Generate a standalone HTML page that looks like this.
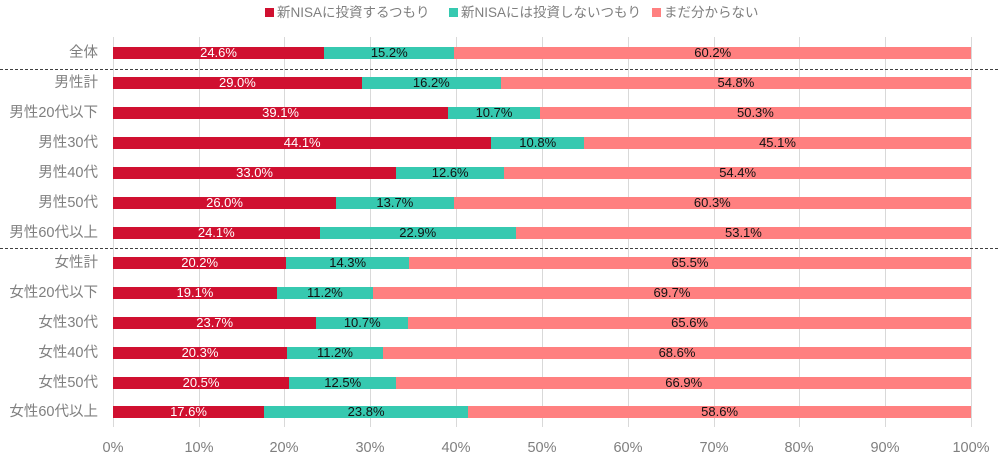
<!DOCTYPE html>
<html><head><meta charset="utf-8"><style>
body{margin:0;width:998px;height:460px;background:#fff;font-family:"Liberation Sans","Noto Sans CJK JP",sans-serif;position:relative;overflow:hidden}
.g{position:absolute;top:37px;height:390px;width:1px;background:#d9d9d9}
.row{position:absolute;left:113px;width:858px;height:12px;display:flex}
.row div{height:12px;font-size:13px;line-height:12px;text-align:center;overflow:hidden;white-space:nowrap}
.a{background:#d01030;color:#fff}.b{background:#36c9b0;color:#111}.c{background:#ff8080;color:#111}
.lab{position:absolute;right:900px;font-size:14.5px;color:#7f7f7f;line-height:16px;white-space:nowrap}
.t{position:absolute;top:440px;font-size:14.5px;color:#7f7f7f;width:60px;text-align:center}
.d{position:absolute;left:0;width:998px;border-top:1px dashed #404040}
.lg{position:absolute;top:5px;font-size:13.5px;color:#7f7f7f;line-height:16px;white-space:nowrap}
.lg span{display:inline-block;width:9px;height:9px;margin-right:3px;vertical-align:0px}
</style></head><body>
<div class="lg" style="left:265px"><span style="background:#d01030"></span>新NISAに投資するつもり</div>
<div class="lg" style="left:449px"><span style="background:#36c9b0"></span>新NISAには投資しないつもり</div>
<div class="lg" style="left:652px"><span style="background:#ff8080"></span>まだ分からない</div>

<div class="g" style="left:113px"></div><div class="g" style="left:199px"></div><div class="g" style="left:284px"></div><div class="g" style="left:370px"></div><div class="g" style="left:456px"></div><div class="g" style="left:542px"></div><div class="g" style="left:628px"></div><div class="g" style="left:714px"></div><div class="g" style="left:799px"></div><div class="g" style="left:885px"></div><div class="g" style="left:971px"></div>

<div class="d" style="top:69px"></div>
<div class="d" style="top:248px"></div>

<div class="lab" style="top:45px">全体</div>
<div class="row" style="top:47px"><div class="a" style="flex:24.6 1 0">24.6%</div><div class="b" style="flex:15.2 1 0">15.2%</div><div class="c" style="flex:60.2 1 0">60.2%</div></div>
<div class="lab" style="top:75px">男性計</div>
<div class="row" style="top:77px"><div class="a" style="flex:29.0 1 0">29.0%</div><div class="b" style="flex:16.2 1 0">16.2%</div><div class="c" style="flex:54.8 1 0">54.8%</div></div>
<div class="lab" style="top:105px">男性20代以下</div>
<div class="row" style="top:107px"><div class="a" style="flex:39.1 1 0">39.1%</div><div class="b" style="flex:10.7 1 0">10.7%</div><div class="c" style="flex:50.3 1 0">50.3%</div></div>
<div class="lab" style="top:135px">男性30代</div>
<div class="row" style="top:137px"><div class="a" style="flex:44.1 1 0">44.1%</div><div class="b" style="flex:10.8 1 0">10.8%</div><div class="c" style="flex:45.1 1 0">45.1%</div></div>
<div class="lab" style="top:165px">男性40代</div>
<div class="row" style="top:167px"><div class="a" style="flex:33.0 1 0">33.0%</div><div class="b" style="flex:12.6 1 0">12.6%</div><div class="c" style="flex:54.4 1 0">54.4%</div></div>
<div class="lab" style="top:195px">男性50代</div>
<div class="row" style="top:197px"><div class="a" style="flex:26.0 1 0">26.0%</div><div class="b" style="flex:13.7 1 0">13.7%</div><div class="c" style="flex:60.3 1 0">60.3%</div></div>
<div class="lab" style="top:225px">男性60代以上</div>
<div class="row" style="top:227px"><div class="a" style="flex:24.1 1 0">24.1%</div><div class="b" style="flex:22.9 1 0">22.9%</div><div class="c" style="flex:53.1 1 0">53.1%</div></div>
<div class="lab" style="top:255px">女性計</div>
<div class="row" style="top:257px"><div class="a" style="flex:20.2 1 0">20.2%</div><div class="b" style="flex:14.3 1 0">14.3%</div><div class="c" style="flex:65.5 1 0">65.5%</div></div>
<div class="lab" style="top:285px">女性20代以下</div>
<div class="row" style="top:287px"><div class="a" style="flex:19.1 1 0">19.1%</div><div class="b" style="flex:11.2 1 0">11.2%</div><div class="c" style="flex:69.7 1 0">69.7%</div></div>
<div class="lab" style="top:315px">女性30代</div>
<div class="row" style="top:317px"><div class="a" style="flex:23.7 1 0">23.7%</div><div class="b" style="flex:10.7 1 0">10.7%</div><div class="c" style="flex:65.6 1 0">65.6%</div></div>
<div class="lab" style="top:345px">女性40代</div>
<div class="row" style="top:347px"><div class="a" style="flex:20.3 1 0">20.3%</div><div class="b" style="flex:11.2 1 0">11.2%</div><div class="c" style="flex:68.6 1 0">68.6%</div></div>
<div class="lab" style="top:375px">女性50代</div>
<div class="row" style="top:377px"><div class="a" style="flex:20.5 1 0">20.5%</div><div class="b" style="flex:12.5 1 0">12.5%</div><div class="c" style="flex:66.9 1 0">66.9%</div></div>
<div class="lab" style="top:404px">女性60代以上</div>
<div class="row" style="top:406px"><div class="a" style="flex:17.6 1 0">17.6%</div><div class="b" style="flex:23.8 1 0">23.8%</div><div class="c" style="flex:58.6 1 0">58.6%</div></div>

<div class="t" style="left:83px">0%</div><div class="t" style="left:169px">10%</div><div class="t" style="left:254px">20%</div><div class="t" style="left:340px">30%</div><div class="t" style="left:426px">40%</div><div class="t" style="left:512px">50%</div><div class="t" style="left:598px">60%</div><div class="t" style="left:684px">70%</div><div class="t" style="left:769px">80%</div><div class="t" style="left:855px">90%</div><div class="t" style="left:941px">100%</div>
</body></html>
